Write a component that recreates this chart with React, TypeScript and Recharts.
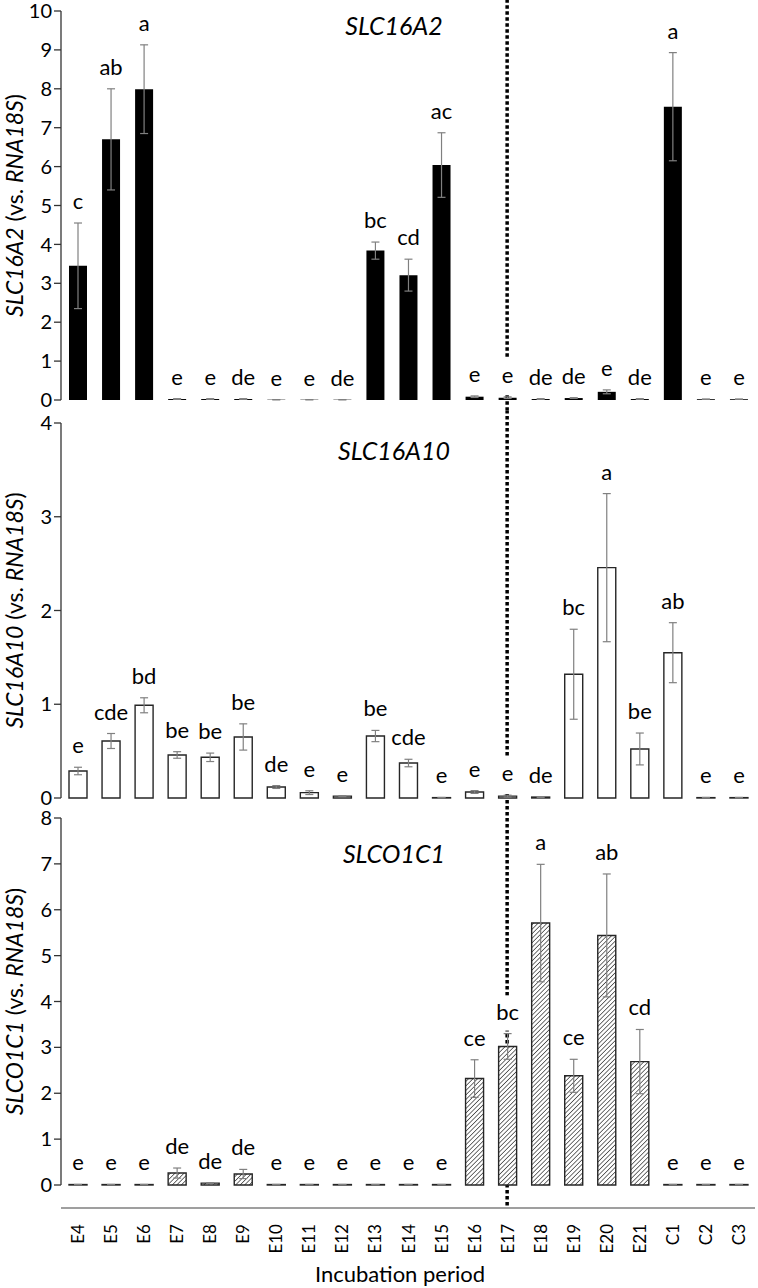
import React from 'react';
import { BarChart, Bar, XAxis, YAxis, ErrorBar, ReferenceLine, LabelList } from 'recharts';

const FONT = 'Lato, "Noto Sans", sans-serif';

const periods = ['E4', 'E5', 'E6', 'E7', 'E8', 'E9', 'E10', 'E11', 'E12', 'E13', 'E14', 'E15', 'E16', 'E17', 'E18', 'E19', 'E20', 'E21', 'C1', 'C2', 'C3'];

// SLC16A2 (black bars)
const slc16a2Mean = [3.45, 6.7, 7.99, 0.025, 0.025, 0.025, 0.008, 0.008, 0.008, 3.84, 3.21, 6.04, 0.085, 0.06, 0.025, 0.05, 0.21, 0.025, 7.54, 0.02, 0.02];
const slc16a2Err = [1.1, 1.3, 1.14, 0.01, 0.01, 0.01, 0.003, 0.003, 0.003, 0.22, 0.41, 0.83, 0.02, 0.02, 0.01, 0.01, 0.05, 0.01, 1.39, 0.005, 0.005];
const slc16a2Letters = ['c', 'ab', 'a', 'e', 'e', 'de', 'e', 'e', 'de', 'bc', 'cd', 'ac', 'e', 'e', 'de', 'de', 'e', 'de', 'a', 'e', 'e'];

// SLC16A10 (open bars)
const slc16a10Mean = [0.288, 0.608, 0.989, 0.459, 0.434, 0.651, 0.117, 0.057, 0.02, 0.661, 0.373, 0.004, 0.064, 0.02, 0.01, 1.32, 2.457, 0.523, 1.55, 0.004, 0.004];
const slc16a10Err = [0.04, 0.08, 0.08, 0.035, 0.045, 0.14, 0.015, 0.02, 0.005, 0.06, 0.04, 0.002, 0.015, 0.01, 0.005, 0.48, 0.79, 0.17, 0.32, 0.002, 0.002];
const slc16a10Letters = ['e', 'cde', 'bd', 'be', 'be', 'be', 'de', 'e', 'e', 'be', 'cde', 'e', 'e', 'e', 'de', 'bc', 'a', 'be', 'ab', 'e', 'e'];

// SLCO1C1 (hatched bars)
const slco1c1Mean = [0.01, 0.01, 0.01, 0.26, 0.04, 0.24, 0.01, 0.01, 0.01, 0.01, 0.01, 0.01, 2.32, 3.02, 5.71, 2.38, 5.44, 2.69, 0.01, 0.01, 0.01];
const slco1c1Err = [0.002, 0.002, 0.002, 0.11, 0.01, 0.1, 0.002, 0.002, 0.002, 0.002, 0.002, 0.002, 0.41, 0.28, 1.28, 0.36, 1.34, 0.7, 0.002, 0.002, 0.002];
const slco1c1Letters = ['e', 'e', 'e', 'de', 'de', 'de', 'e', 'e', 'e', 'e', 'e', 'e', 'ce', 'bc', 'a', 'ce', 'ab', 'cd', 'e', 'e', 'e'];

const ticks16a2 = [0, 1, 2, 3, 4, 5, 6, 7, 8, 9, 10];
const ticks16a10 = [0, 1, 2, 3, 4];
const ticksO1c1 = [0, 1, 2, 3, 4, 5, 6, 7, 8];

type Row = { period: string; mean: number; err: number; letter: string };

const buildRows = (mean: number[], err: number[], letters: string[]): Row[] =>
  periods.map((p, i) => ({ period: p, mean: mean[i], err: err[i], letter: letters[i] }));

function LetterLabel(props: any) {
  const { x, y, width, height, value, rows } = props;
  const row = rows.find((r: Row) => r.period === value);
  if (!row) return null;
  const perUnit = row.mean > 0 ? Math.abs(height) / row.mean : 0;
  const errTop = y - row.err * perUnit;
  const cx = x + width / 2;
  const base = errTop - 14;
  const w = row.letter.length * 11 + 6;
  return (
    <g>
      <rect x={cx - w / 2} y={base - 24} width={w} height={35} fill="#fff" />
      <text x={cx} y={base} textAnchor="middle" fontSize={22} fontFamily={FONT} fill="#000">
        {row.letter}
      </text>
    </g>
  );
}

function AxisTitle({ viewBox, gene }: any) {
  const vb = viewBox || {};
  const cx = 14;
  const cy = (vb.y ?? 0) + (vb.height ?? 0) / 2;
  return (
    <text x={cx} y={cy} transform={`rotate(-90, ${cx}, ${cy})`} textAnchor="middle" dominantBaseline="central" fontSize={23} fontFamily={FONT} fill="#000">
      <tspan fontStyle="italic">{gene}</tspan>
      <tspan> (vs. </tspan>
      <tspan fontStyle="italic">RNA18S</tspan>
      <tspan>)</tspan>
    </text>
  );
}

function PeriodTick({ x, y, payload }: any) {
  const ty = y + 39;
  return (
    <text x={x} y={ty} transform={`rotate(-90, ${x}, ${ty})`} textAnchor="end" dominantBaseline="central" fontSize={17} fontFamily={FONT} fill="#000">
      {payload.value}
    </text>
  );
}

function XTitle({ viewBox }: any) {
  const vb = viewBox || {};
  const cx = (vb.x ?? 0) + (vb.width ?? 0) / 2 - 8;
  return (
    <text x={cx} y={(vb.y ?? 0) + 97} textAnchor="middle" fontSize={22} fontFamily={FONT} fill="#000">
      Incubation period
    </text>
  );
}

interface PanelProps {
  rows: Row[];
  gene: string;
  ticks: number[];
  top: number;
  height: number;
  margin: { top: number; right: number; bottom: number; left: number };
  fill: string;
  stroke?: string;
  lineTop: number;
  lineBottom: number;
  bottomAxis?: boolean;
}

function Panel({ rows, gene, ticks, top, height, margin, fill, stroke, lineTop, lineBottom, bottomAxis }: PanelProps) {
  return (
    <div style={{ position: 'absolute', left: 0, top }}>
      <BarChart width={758} height={height} data={rows} margin={margin} barSize={18}>
        <defs>
          <pattern id="hatch" patternUnits="userSpaceOnUse" width={3.2} height={3.2} patternTransform="rotate(45)">
            <rect width={3.2} height={3.2} fill="#fff" />
            <line x1={0} y1={0} x2={0} y2={3.2} stroke="#333" strokeWidth={1.4} />
          </pattern>
        </defs>
        {bottomAxis ? (
          <XAxis
            dataKey="period"
            interval={0}
            axisLine={false}
            tickLine={false}
            tickSize={0}
            tickMargin={0}
            height={103}
            tick={<PeriodTick />}
            label={{ content: (p: any) => <XTitle viewBox={p.viewBox} /> }}
          />
        ) : (
          <XAxis dataKey="period" hide />
        )}
        <YAxis
          width={61}
          domain={[0, ticks[ticks.length - 1]]}
          ticks={ticks}
          interval={0}
          tickSize={7}
          tickMargin={2}
          axisLine={{ stroke: '#333', strokeWidth: 1.3 }}
          tickLine={{ stroke: '#333', strokeWidth: 1.3 }}
          tick={{ fontSize: 20, fill: '#000', fontFamily: FONT }}
          label={{ content: (p: any) => <AxisTitle viewBox={p.viewBox} gene={gene} /> }}
        />
        {bottomAxis && (
          <ReferenceLine y={-0.5} ifOverflow="visible" stroke="#7f7f7f" strokeWidth={1.5} />
        )}
        <ReferenceLine
          segment={[{ x: 'E17', y: lineTop }, { x: 'E17', y: lineBottom }]}
          ifOverflow="visible"
          stroke="#000"
          strokeWidth={3.5}
          strokeDasharray="3.5 2.5"
          zIndex={0}
        />
        <Bar dataKey="mean" fill={fill} stroke={stroke} strokeWidth={stroke ? 1.4 : 0} isAnimationActive={false}>
          <ErrorBar dataKey="err" direction="y" width={4} stroke="#808080" strokeWidth={1.2} />
          <LabelList dataKey="period" content={(p: any) => <LetterLabel {...p} rows={rows} />} />
        </Bar>
      </BarChart>
    </div>
  );
}

function Title({ text, cy }: { text: string; cy: number }) {
  return (
    <div
      style={{
        position: 'absolute',
        left: 294,
        width: 200,
        top: cy - 15,
        height: 30,
        lineHeight: '30px',
        textAlign: 'center',
        fontFamily: FONT,
        fontStyle: 'italic',
        fontSize: 25,
        color: '#000',
      }}
    >
      {text}
    </div>
  );
}

export default function App() {
  const rowsA2 = buildRows(slc16a2Mean, slc16a2Err, slc16a2Letters);
  const rowsA10 = buildRows(slc16a10Mean, slc16a10Err, slc16a10Letters);
  const rowsO1 = buildRows(slco1c1Mean, slco1c1Err, slco1c1Letters);
  return (
    <div style={{ position: 'absolute', left: 0, top: 0, width: 758, height: 1288, background: '#fff', overflow: 'hidden' }}>
      <Panel
        rows={rowsA2}
        gene="SLC16A2"
        ticks={ticks16a2}
        top={0}
        height={411}
        margin={{ top: 11, right: 3, bottom: 11, left: 0 }}
        fill="#000"
        lineTop={10.3}
        lineBottom={-0.3}
      />
      <Panel
        rows={rowsA10}
        gene="SLC16A10"
        ticks={ticks16a10}
        top={411}
        height={398}
        margin={{ top: 12, right: 3, bottom: 11, left: 0 }}
        fill="#fff"
        stroke="#262626"
        lineTop={4.14}
        lineBottom={-0.02}
      />
      <Panel
        rows={rowsO1}
        gene="SLCO1C1"
        ticks={ticksO1c1}
        top={800}
        height={488}
        margin={{ top: 18, right: 3, bottom: 0, left: 0 }}
        fill="url(#hatch)"
        stroke="#262626"
        lineTop={8.39}
        lineBottom={-0.5}
        bottomAxis
      />
      <Title text="SLC16A2" cy={25} />
      <Title text="SLC16A10" cy={450} />
      <Title text="SLCO1C1" cy={853} />
    </div>
  );
}
